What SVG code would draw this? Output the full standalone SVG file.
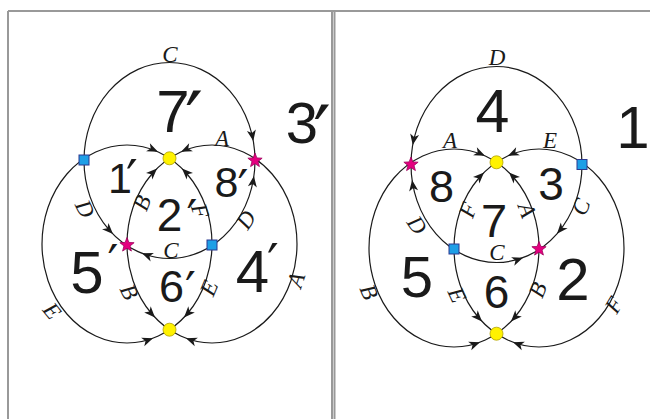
<svg xmlns="http://www.w3.org/2000/svg" xmlns:xlink="http://www.w3.org/1999/xlink" width="650" height="419" viewBox="0 0 650 419">
<style>
.frame{stroke:#999;stroke-width:2;fill:none}
.curve{fill:none;stroke:#1a1a1a;stroke-width:1.2}
.ah{fill:#1a1a1a}
.el{font-family:"Liberation Serif",serif;font-style:italic;font-size:23px;text-anchor:middle;fill:#1a1a1a}
.rg{font-family:"Liberation Sans",Arial,sans-serif;text-anchor:middle;fill:#1a1a1a}
.pr{font-family:"DejaVu Sans",sans-serif}
.yel{fill:#fff200;stroke:#b0a000;stroke-width:0.8}
.blu{fill:#1e9fe6;stroke:#2b3990;stroke-width:1}
.sta{fill:#e4007f;stroke:#9e005d;stroke-width:0.8}
</style>
<defs>
<path id="ah" d="M0,0 L-11,-4.5 L-8,0 L-11,4.5 Z"/>
<path id="star" d="M0,-7.5 L1.88,-2.59 L7.13,-2.32 L3.04,0.99 L4.41,6.07 L0,3.2 L-4.41,6.07 L-3.04,0.99 L-7.13,-2.32 L-1.88,-2.59 Z"/>
</defs>
<rect width="650" height="419" fill="#fff"/>
<g id="frame">
<line class="frame" x1="8" y1="11" x2="650" y2="11"/>
<line class="frame" x1="8" y1="11" x2="8" y2="419"/>
<line class="frame" x1="332" y1="11" x2="332" y2="419" stroke-width="1.5"/>
<line class="frame" x1="334.5" y1="11" x2="334.5" y2="419" stroke-width="1.5"/>
</g>
<g id="connectors">
<ellipse class="curve" cx="169.5" cy="160.5" rx="85.5" ry="98"/>
<ellipse class="curve" cx="127" cy="244" rx="85" ry="99"/>
<ellipse class="curve" cx="212" cy="244" rx="85" ry="99"/>
<ellipse class="curve" cx="496.5" cy="164.5" rx="85.5" ry="98"/>
<ellipse class="curve" cx="454" cy="248" rx="85" ry="99"/>
<ellipse class="curve" cx="539" cy="248" rx="85" ry="99"/>
<g class="ah">
<use xlink:href="#ah" transform="translate(253.3,141) rotate(79.9)"/>
<use xlink:href="#ah" transform="translate(253.9,176) rotate(-82)"/>
<use xlink:href="#ah" transform="translate(113,234) rotate(45.3)"/>
<use xlink:href="#ah" transform="translate(142,253.3) rotate(201.3)"/>
<use xlink:href="#ah" transform="translate(158,151.8) rotate(24.5)"/>
<use xlink:href="#ah" transform="translate(182,168.5) rotate(-135.3)"/>
<use xlink:href="#ah" transform="translate(184,317.4) rotate(133.5)"/>
<use xlink:href="#ah" transform="translate(153,338.2) rotate(-20.5)"/>
<use xlink:href="#ah" transform="translate(181,151.8) rotate(155.5)"/>
<use xlink:href="#ah" transform="translate(157,168.5) rotate(-44.7)"/>
<use xlink:href="#ah" transform="translate(155,317.4) rotate(46.5)"/>
<use xlink:href="#ah" transform="translate(186,338.2) rotate(200.5)"/>
<use xlink:href="#ah" transform="translate(412.7,145) rotate(100.1)"/>
<use xlink:href="#ah" transform="translate(412.1,180) rotate(-98)"/>
<use xlink:href="#ah" transform="translate(557,233.7) rotate(131)"/>
<use xlink:href="#ah" transform="translate(523,257.7) rotate(-20.5)"/>
<use xlink:href="#ah" transform="translate(485,155.8) rotate(24.5)"/>
<use xlink:href="#ah" transform="translate(508,155.8) rotate(155.5)"/>
<use xlink:href="#ah" transform="translate(484,172.5) rotate(-44.7)"/>
<use xlink:href="#ah" transform="translate(509,172.5) rotate(-135.3)"/>
<use xlink:href="#ah" transform="translate(482,321.4) rotate(46.5)"/>
<use xlink:href="#ah" transform="translate(511,321.4) rotate(133.5)"/>
<use xlink:href="#ah" transform="translate(480,342.2) rotate(-20.5)"/>
<use xlink:href="#ah" transform="translate(513,342.2) rotate(200.5)"/>
</g>
<g id="edge-labels">
<text class="el" x="170" y="62">C</text>
<text class="el" x="222" y="146">A</text>
<text class="el" x="171" y="258">C</text>
<text class="el" transform="translate(85,209) rotate(64)" y="7.5">D</text>
<text class="el" transform="translate(142,203) rotate(-68.7)" y="7.5">B</text>
<text class="el" transform="translate(200,211) rotate(72.6)" y="7.5">F</text>
<text class="el" transform="translate(246,220) rotate(-56.3)" y="7.5">D</text>
<text class="el" transform="translate(129,292) rotate(64)" y="7.5">B</text>
<text class="el" transform="translate(209,288) rotate(-67)" y="7.5">E</text>
<text class="el" transform="translate(52,311) rotate(51)" y="7.5">E</text>
<text class="el" transform="translate(296,280) rotate(-71.5)" y="7.5">A</text>
<text class="el" x="497" y="65">D</text>
<text class="el" x="450" y="148">A</text>
<text class="el" x="550" y="148">E</text>
<text class="el" x="497" y="260">C</text>
<text class="el" transform="translate(468,210) rotate(-70.4)" y="7.5">F</text>
<text class="el" transform="translate(527,210) rotate(70.4)" y="7.5">A</text>
<text class="el" transform="translate(417,225) rotate(55.6)" y="7.5">D</text>
<text class="el" transform="translate(581,207) rotate(-67.2)" y="7.5">C</text>
<text class="el" transform="translate(457,295) rotate(65.1)" y="7.5">E</text>
<text class="el" transform="translate(538,290) rotate(-68.1)" y="7.5">B</text>
<text class="el" transform="translate(369,292) rotate(67)" y="7.5">B</text>
<text class="el" transform="translate(614,305) rotate(-58.8)" y="7.5">F</text>
</g>
</g>
<g id="regions-left">
<text class="rg" x="173" y="132" font-size="60">7<tspan class="pr" x="194" y="149" font-size="80">′</tspan></text>
<text class="rg" x="302" y="143" font-size="58">3<tspan class="pr" x="322" y="162" font-size="78">′</tspan></text>
<text class="rg" x="120" y="193" font-size="43">1<tspan class="pr" x="132" y="197" font-size="52">′</tspan></text>
<text class="rg" x="226.5" y="197" font-size="43">8<tspan class="pr" x="243" y="204" font-size="48">′</tspan></text>
<text class="rg" x="169.5" y="231" font-size="46">2<tspan class="pr" x="192" y="234" font-size="48">′</tspan></text>
<text class="rg" x="87" y="293" font-size="60">5<tspan class="pr" x="113" y="279" font-size="48">′</tspan></text>
<text class="rg" x="171.5" y="302" font-size="45">6<tspan class="pr" x="190.5" y="306" font-size="48">′</tspan></text>
<text class="rg" x="252.5" y="292" font-size="60">4<tspan class="pr" x="273" y="281" font-size="52">′</tspan></text>
</g>
<g id="regions-right">
<text class="rg" x="492.5" y="132" font-size="61">4</text>
<text class="rg" x="633" y="148" font-size="60">1</text>
<text class="rg" x="441.5" y="202" font-size="45">8</text>
<text class="rg" x="551" y="200" font-size="46">3</text>
<text class="rg" x="494" y="237" font-size="47">7</text>
<text class="rg" x="417" y="297" font-size="58">5</text>
<text class="rg" x="496.5" y="308" font-size="46">6</text>
<text class="rg" x="573" y="300" font-size="60">2</text>
</g>
<g id="node-L-yellow-top"><circle class="yel" cx="169.5" cy="158.3" r="6.5"/></g>
<g id="node-L-yellow-bottom"><circle class="yel" cx="169.5" cy="329.7" r="6.5"/></g>
<g id="node-L-blue-left"><rect class="blu" x="79" y="155" width="10" height="10"/></g>
<g id="node-L-blue-inner"><rect class="blu" x="207" y="240" width="10" height="10"/></g>
<g id="node-L-star-right"><use class="sta" xlink:href="#star" x="255" y="160.5"/></g>
<g id="node-L-star-inner"><use class="sta" xlink:href="#star" x="127" y="245"/></g>
<g id="node-R-yellow-top"><circle class="yel" cx="496.5" cy="162.3" r="6.5"/></g>
<g id="node-R-yellow-bottom"><circle class="yel" cx="496.5" cy="333.7" r="6.5"/></g>
<g id="node-R-star-left"><use class="sta" xlink:href="#star" x="411" y="164.5"/></g>
<g id="node-R-star-inner"><use class="sta" xlink:href="#star" x="539" y="249"/></g>
<g id="node-R-blue-right"><rect class="blu" x="577" y="159.5" width="10" height="10"/></g>
<g id="node-R-blue-inner"><rect class="blu" x="449" y="244" width="10" height="10"/></g>
</svg>
